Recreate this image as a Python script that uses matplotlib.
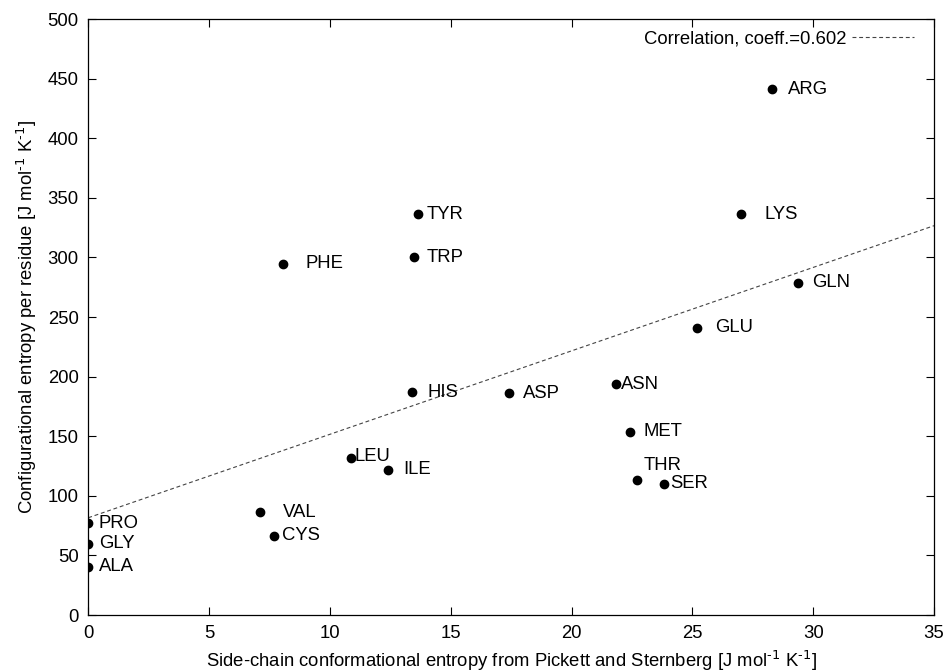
import numpy as np
import matplotlib
matplotlib.use("Agg")
import matplotlib.pyplot as plt

# ---------------- data ----------------
residues = ["PHE", "TYR", "TRP", "ARG", "LYS", "GLN", "GLU", "HIS", "LEU", "ILE",
            "VAL", "CYS", "PRO", "GLY", "ALA", "ASP", "ASN", "MET", "THR", "SER"]
sc_entropy = [8.07, 13.64, 13.5, 28.28, 27.02, 29.38, 25.2, 13.38, 10.86, 12.4,
              7.12, 7.67, 0.0, 0.0, 0.0, 17.41, 21.86, 22.43, 22.71, 23.83]
conf_entropy = [294.5, 336.4, 300.3, 441.0, 336.2, 278.8, 241.0, 186.8, 131.4, 121.9,
                86.1, 66.5, 76.9, 59.6, 40.5, 186.0, 193.8, 153.8, 113.0, 110.2]

# label offsets (points) from each dot
label_dx = [16, 6.5, 8.5, 12, 16.5, 10, 13, 11.5, 3, 11,
            16, 6, 7.5, 7.5, 7.5, 10, 3, 9.5, 4.5, 4.5]
label_dy = [0, 0, 0, 0, 0, 0, 0, 0, 1.5, 0,
            0, 0, 0, 0, 0, 0, 0, 0, 11, 0]

fit_intercept = 81.6
fit_slope = 7.0
corr_coeff = 0.602

plt.rcParams["font.family"] = ["Liberation Sans", "DejaVu Sans"]
plt.rcParams["mathtext.default"] = "regular"

FS = 13.3
unit = r"[J mol$^{\text{-1}}$ K$^{\text{-1}}$]"

fig = plt.figure(figsize=(9.44, 6.72), dpi=100)
ax = fig.add_axes([0.0935, 0.0848, 0.8959, 0.8869])

# regression line
xs = np.array([0, 35])
ax.plot(xs, fit_intercept + fit_slope * xs, color="#444444", lw=0.8,
        dashes=(3.5, 2.5), label="Correlation, coeff.=%.3f" % corr_coeff)

ax.plot(sc_entropy, conf_entropy, "o", color="black", markersize=6, zorder=3)

for name, x, y, dx, dy in zip(residues, sc_entropy, conf_entropy, label_dx, label_dy):
    ax.annotate(name, (x, y), xytext=(dx, dy), textcoords="offset points",
                ha="left", va="center", fontsize=FS)

ax.set_xlim(0, 35)
ax.set_ylim(0, 500)
ax.set_xticks(range(0, 36, 5))
ax.set_yticks(range(0, 501, 50))
ax.tick_params(direction="in", length=6, width=0.8, top=True, right=True,
               labelsize=FS, pad=7)
for sp in ax.spines.values():
    sp.set_linewidth(0.9)

ax.set_xlabel("Side-chain conformational entropy from Pickett and Sternberg " + unit,
              fontsize=FS, labelpad=5)
ax.set_ylabel("Configurational entropy per residue " + unit,
              fontsize=FS, labelpad=6)

ax.legend(loc="upper right", bbox_to_anchor=(0.992, 1.002), frameon=False,
          markerfirst=False, fontsize=FS, handlelength=3.35,
          borderaxespad=0.3, handletextpad=0.3)

fig.savefig("out.png", dpi=100)
